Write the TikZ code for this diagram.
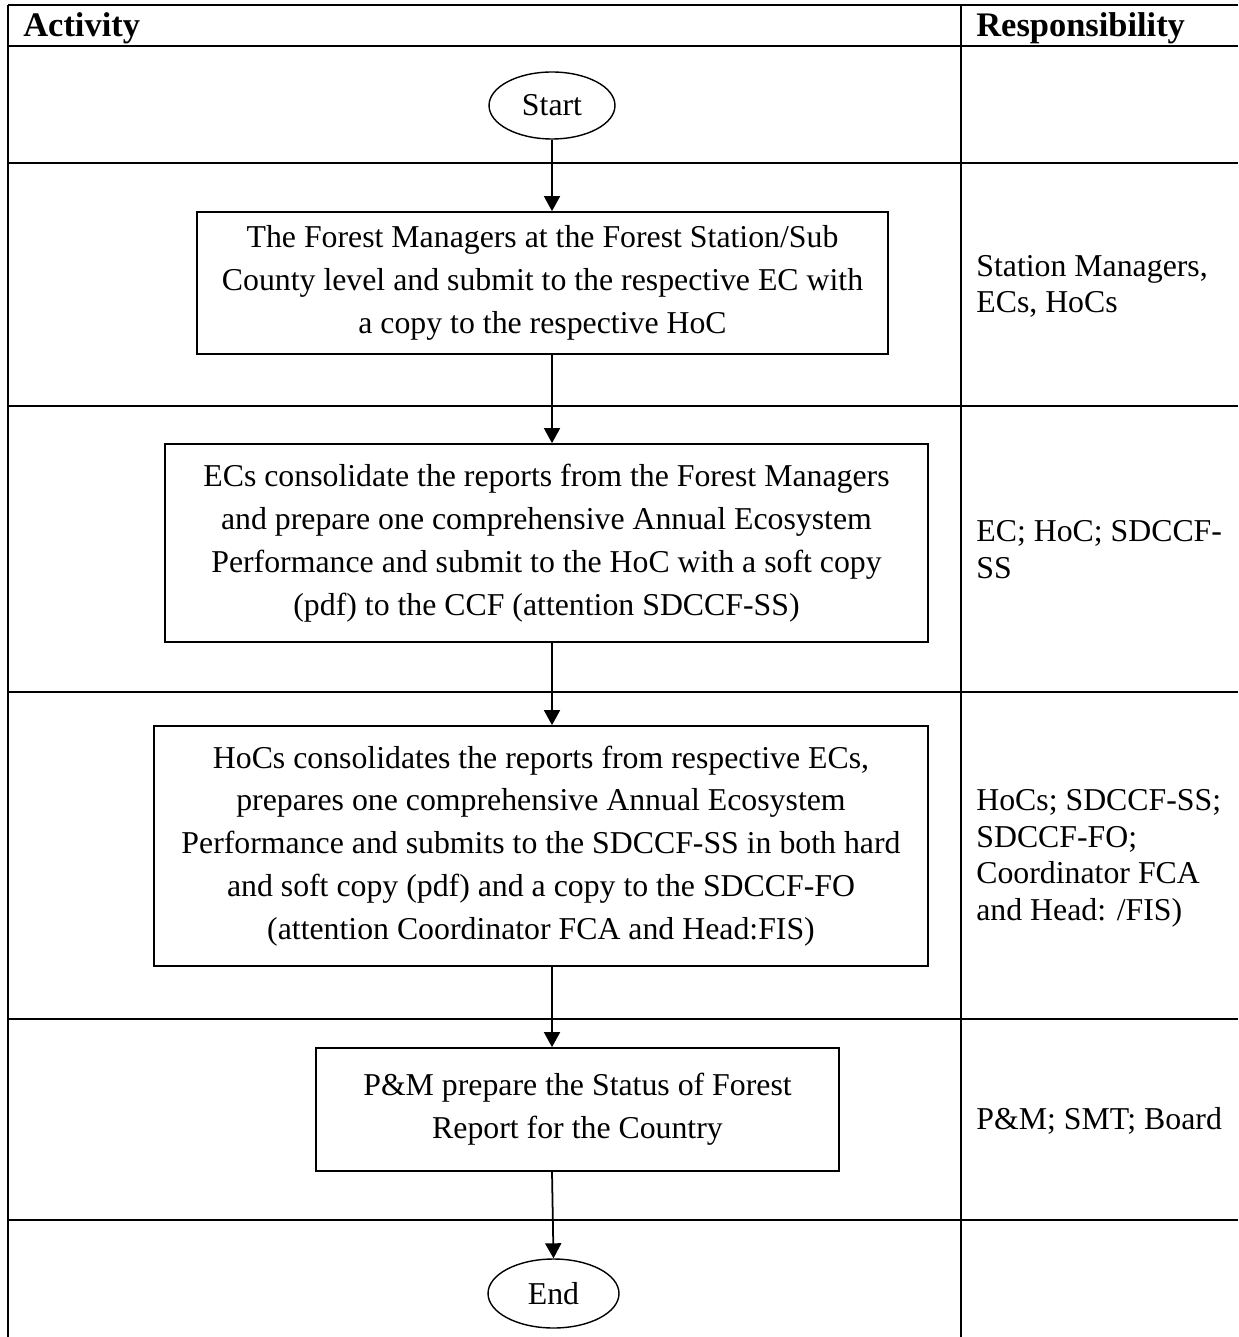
\documentclass[tikz,border=0pt]{standalone}
\usepackage{fontspec}
\setmainfont{Liberation Serif}
\usetikzlibrary{arrows.meta,shapes.geometric}

\begin{document}
\begin{tikzpicture}[x=0.02cm,y=-0.02cm,
    grid/.style={line width=1.4pt},
    stepbox/.style={draw,line width=1pt,align=center,inner sep=0pt,font=\fontsize{18.1}{24.4}\selectfont},
    term/.style={draw,ellipse,line width=0.8pt,inner sep=0pt,font=\fontsize{18.1}{20.8}\selectfont},
    resp/.style={anchor=west,align=left,inner sep=0pt,font=\fontsize{18.1}{20.8}\selectfont},
    head/.style={anchor=base west,inner sep=0pt,font=\fontsize{19.6}{22}\selectfont\bfseries},
    flow/.style={-{Triangle[width=0.32cm,length=0.3cm]},line width=1pt}]
    \useasboundingbox (0,0) rectangle (1238,1337);
    \foreach \y in {5,46,163,406,692,1019,1220}
        \draw[grid] (8,\y) -- (1238,\y);
    \draw[grid] (8,5) -- (8,1337);
    \draw[grid] (961,5) -- (961,1337);
    \node[head] (acthead) at (23,37) {Activity};
    \node[head] (resphead) at (976,37) {Responsibility};
    \node[term,minimum width=2.52cm,minimum height=1.34cm] (start) at (552,105.5) {Start};
    \node[stepbox,minimum width=13.82cm,minimum height=2.84cm] (station) at (542.5,283)
        {The Forest Managers at the Forest Station/Sub\\County level and submit to the respective EC with\\a copy to the respective HoC};
    \node[stepbox,minimum width=15.26cm,minimum height=3.96cm] (ecrep) at (546.5,543)
        {ECs consolidate the reports from the Forest Managers\\and prepare one comprehensive Annual Ecosystem\\Performance and submit to the HoC with a soft copy\\(pdf) to the CCF (attention SDCCF-SS)};
    \node[stepbox,minimum width=15.48cm,minimum height=4.8cm] (hocrep) at (541,846)
        {HoCs consolidates the reports from respective ECs,\\prepares one comprehensive Annual Ecosystem\\Performance and submits to the SDCCF-SS in both hard\\and soft copy (pdf) and a copy to the SDCCF-FO\\(attention Coordinator FCA and Head:FIS)};
    \node[stepbox,minimum width=10.46cm,minimum height=2.46cm] (pmrep) at (577.5,1109.5)
        {P\&M prepare the Status of Forest\\Report for the Country};
    \node[term,minimum width=2.62cm,minimum height=1.38cm] (end) at (553.5,1293.5) {End};
    \node[resp] (r1) at (976,286.5) {Station Managers,\\ECs, HoCs};
    \node[resp] (r2) at (976,549.5) {EC; HoC; SDCCF-\\SS};
    \node[resp] (r3) at (976,858.5) {HoCs; SDCCF-SS;\\SDCCF-FO;\\Coordinator FCA\\and Head: /FIS)};
    \node[resp] (r4) at (976,1121) {P\&M; SMT; Board};
    \draw[flow] (start.south) -- (start.south |- station.north);
    \draw[flow] (station.south -| start) -- (ecrep.north -| start);
    \draw[flow] (ecrep.south -| start) -- (hocrep.north -| start);
    \draw[flow] (hocrep.south -| start) -- (pmrep.north -| start);
    \draw[flow] (pmrep.south -| start) -- (end.north);
\end{tikzpicture}
\end{document}
